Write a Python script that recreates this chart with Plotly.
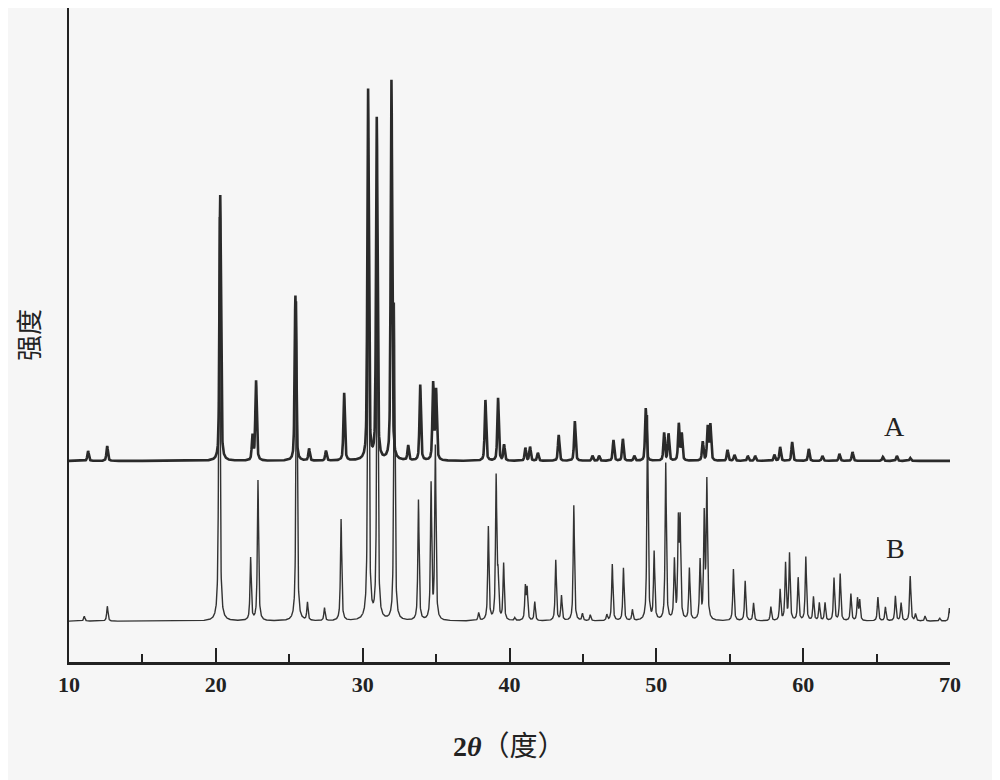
import numpy as np
import plotly.graph_objects as go

# peak positions (2theta, deg) and heights above each pattern's baseline
A_POS = [11.3, 12.6, 20.3, 22.5, 22.74, 25.42, 26.35, 27.5, 28.74, 30.37, 30.96, 31.96,
         33.1, 33.92, 34.8, 35.0, 38.36, 39.22, 39.63, 41.08, 41.4, 41.93, 43.35, 44.45,
         45.65, 46.1, 47.08, 47.72, 48.5, 49.28, 50.53, 50.83, 51.53, 51.73, 53.16, 53.5,
         53.68, 54.85, 55.32, 56.23, 56.73, 58.04, 58.43, 59.25, 60.38, 61.31, 62.47,
         63.36, 65.43, 66.38, 67.29]
A_HEIGHT = [10, 15, 267, 25, 80, 166, 12, 10, 68, 372, 343, 382,
            15, 76, 77, 70, 61, 63, 16, 13, 14, 8, 26, 40,
            5, 5, 21, 22, 5, 53, 28, 27, 37, 27, 19, 34,
            36, 11, 6, 5, 5, 6, 14, 19, 12, 5, 7,
            9, 4, 5, 3]

B_POS = [11.04, 12.61, 20.24, 22.37, 22.87, 25.5, 26.24, 27.4, 28.53, 30.39, 31.0, 32.16,
         33.8, 34.66, 34.95, 37.9, 38.56, 39.09, 39.22, 39.6, 40.36, 41.08, 41.2, 41.72,
         43.15, 43.54, 44.38, 44.97, 45.5, 46.63, 47.0, 47.76, 48.37, 49.4, 49.85, 50.64,
         51.23, 51.5, 51.62, 52.25, 52.98, 53.26, 53.44, 55.25, 56.05, 56.62, 57.8, 58.43,
         58.8, 59.07, 59.66, 60.18, 60.7, 61.1, 61.49, 62.1, 62.52, 63.25, 63.7, 63.85,
         65.09, 65.6, 66.28, 66.67, 67.29, 67.65, 68.3, 69.3, 69.96]
B_HEIGHT = [5, 15, 406, 63, 141, 321, 18, 13, 102, 483, 386, 319,
            121, 136, 174, 8, 94, 143, 40, 57, 3, 33, 31, 19,
            61, 25, 116, 7, 6, 6, 57, 53, 11, 206, 68, 158,
            59, 95, 96, 52, 59, 104, 138, 52, 40, 18, 14, 31,
            57, 67, 43, 64, 24, 18, 18, 43, 47, 27, 22, 20,
            24, 14, 25, 18, 45, 7, 5, 3, 13]

A_BASE = 202  # vertical offset of pattern A
B_BASE = 41   # vertical offset of pattern B

TICKS = [10, 20, 30, 40, 50, 60, 70]

two_theta = np.round(np.arange(10, 70.0001, 0.01), 2)


def pattern(pos, height, hw, eta):
    out = np.zeros_like(two_theta)
    for p, h in zip(pos, height):
        d2 = (two_theta - p) ** 2
        lor = hw ** 2 / (d2 + hw ** 2)
        gau = np.exp(-np.log(2) * d2 / hw ** 2)
        out += h * (eta * lor + (1 - eta) * gau)
    return out


y_a = A_BASE + pattern(A_POS, A_HEIGHT, 0.06, 0.5)
y_b = B_BASE + pattern(B_POS, B_HEIGHT, 0.05, 0.8)

fig = go.Figure()
fig.add_trace(go.Scatter(x=two_theta, y=y_b, mode="lines",
                         line={"color": "#333", "width": 1.4}, showlegend=False))
fig.add_trace(go.Scatter(x=two_theta, y=y_a, mode="lines",
                         line={"color": "#2a2a2a", "width": 2.6}, showlegend=False))

serif = "Liberation Serif, Times New Roman, serif"
fig.add_annotation(x=66.2, y=237, text="A", showarrow=False,
                   font={"family": serif, "size": 28, "color": "#222"})
fig.add_annotation(x=66.3, y=114, text="B", showarrow=False,
                   font={"family": serif, "size": 28, "color": "#222"})
fig.add_annotation(x=0.5, y=0, xref="paper", yref="paper", yanchor="middle", yshift=-84,
                   text="<b>2<i>θ</i></b>（度）", showarrow=False,
                   font={"family": "Liberation Serif, Noto Sans CJK SC", "size": 28, "color": "#222"})
fig.add_annotation(x=0, y=0.5, xref="paper", yref="paper", xanchor="center", xshift=-42,
                   text="强度", textangle=-90, showarrow=False,
                   font={"family": "Noto Sans CJK SC", "size": 26, "color": "#222"})

fig.update_xaxes(range=[10, 70], tickvals=TICKS, ticks="inside", ticklen=14, tickwidth=2,
                 tickcolor="#222", showline=True, linecolor="#222", linewidth=3,
                 showgrid=False, zeroline=False, ticklabelstandoff=1,
                 tickfont={"family": serif, "size": 22, "color": "#222", "weight": "bold"},
                 minor={"ticks": "inside", "ticklen": 8, "tickwidth": 1.5, "dtick": 5,
                        "tick0": 15, "tickcolor": "#222", "showgrid": False})
fig.update_yaxes(range=[0, 657], showline=True, linecolor="#222", linewidth=2,
                 showticklabels=False, ticks="", showgrid=False, zeroline=False)
fig.update_layout(width=992, height=772, paper_bgcolor="#f6f6f6", plot_bgcolor="#f6f6f6",
                  margin={"l": 61, "r": 50, "t": 0, "b": 118})

fig.write_html("out.html")
